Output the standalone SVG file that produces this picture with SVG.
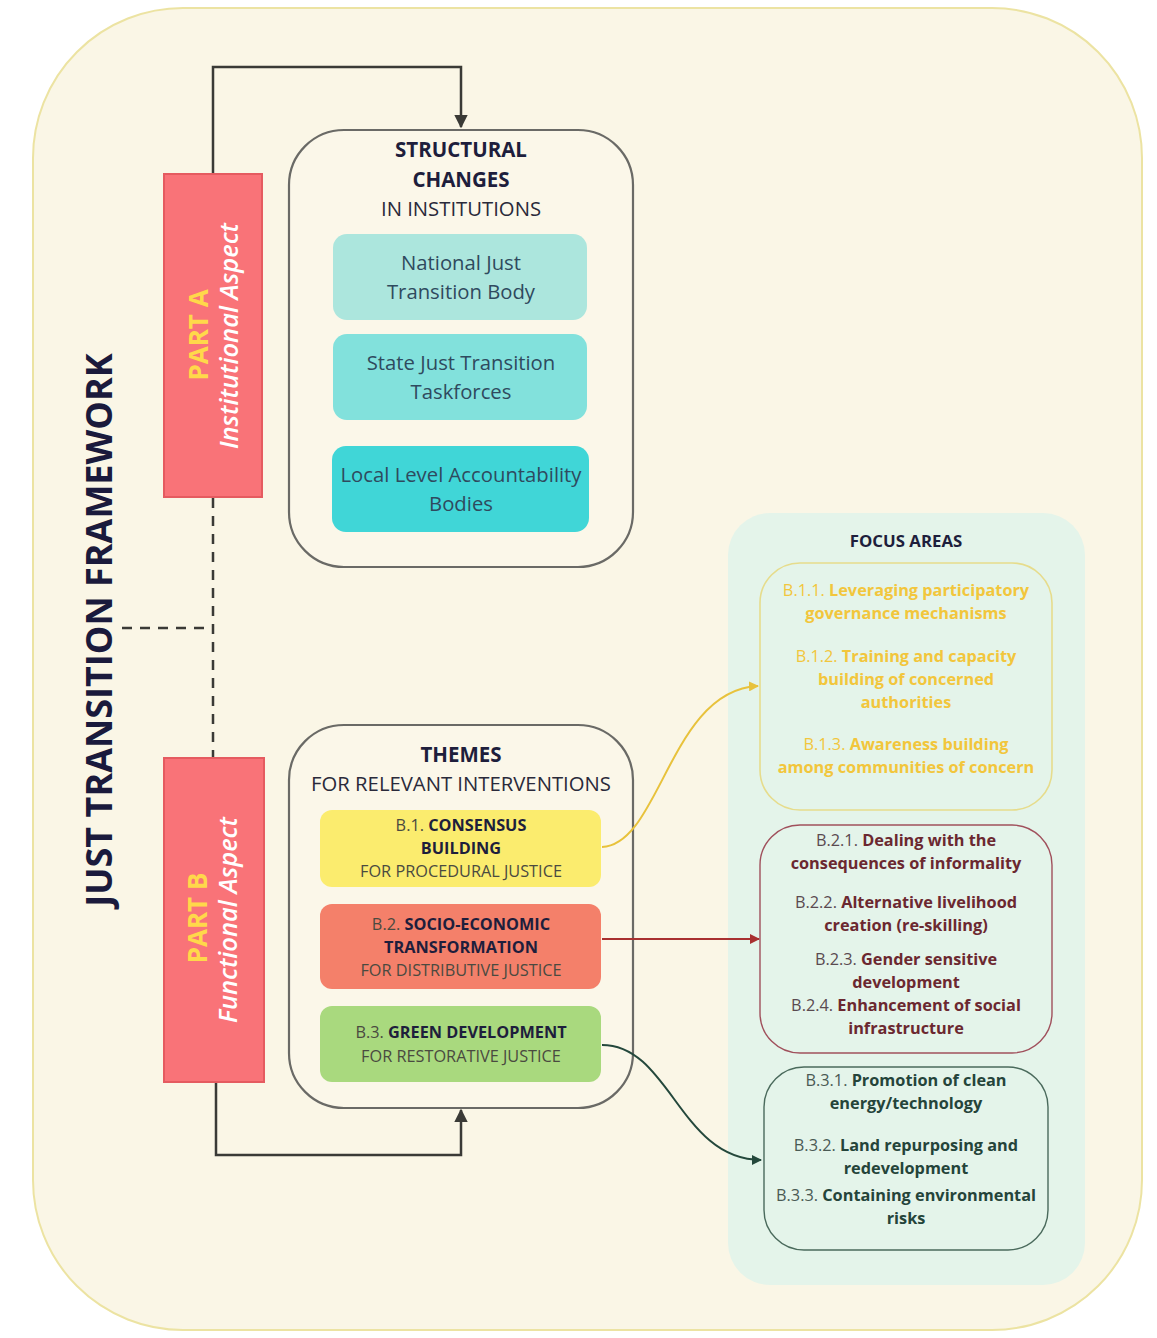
<svg xmlns="http://www.w3.org/2000/svg" width="1157" height="1338" viewBox="0 0 1157 1338">
<defs>
<style>
text{font-family:"Open Sans","Noto Sans","Liberation Sans",sans-serif;text-anchor:middle;}
.h{font-size:20.5px;font-weight:bold;fill:#1e1e3c;}
.hs{font-size:20.3px;fill:#2a2a3a;}
.inst{font-size:20.3px;fill:#2f4a5e;}
.th{font-size:16.3px;fill:#4a4a40;}
.thb{font-weight:bold;fill:#1e1e3c;}
.f1{font-size:16.3px;font-weight:bold;fill:#f2c63c;}
.f2{font-size:16.3px;font-weight:bold;fill:#6b2830;}
.f3{font-size:16.3px;font-weight:bold;fill:#25443a;}
.lt{font-weight:normal;}
.part{fill:#f97378;stroke:#e55b60;stroke-width:2;}
.pt{font-size:26px;font-weight:bold;fill:#ffd84a;}
.pi{font-size:25.5px;font-style:italic;font-weight:600;fill:#ffffff;}
.big{stroke:#6a6a66;stroke-width:2.2;fill:#fbf7e9;}
</style>
<marker id="ak" viewBox="0 0 10 10" refX="9" refY="5" markerWidth="5.5" markerHeight="5.5" orient="auto"><path d="M0,0 L10,5 L0,10 z" fill="#3a3a36"/></marker>
<marker id="ay" viewBox="0 0 10 10" refX="9" refY="5" markerWidth="5" markerHeight="5" orient="auto"><path d="M0,0 L10,5 L0,10 z" fill="#e8c23c"/></marker>
<marker id="ar" viewBox="0 0 10 10" refX="9" refY="5" markerWidth="5" markerHeight="5" orient="auto"><path d="M0,0 L10,5 L0,10 z" fill="#a83030"/></marker>
<marker id="ag" viewBox="0 0 10 10" refX="9" refY="5" markerWidth="5" markerHeight="5" orient="auto"><path d="M0,0 L10,5 L0,10 z" fill="#24483c"/></marker>
</defs>
<rect width="1157" height="1338" fill="#ffffff"/>
<rect id="frame" x="33" y="8" width="1109" height="1322" rx="150" fill="#faf6e6" stroke="#ece3a2" stroke-width="2"/>

<g id="title"><text x="0" y="0" transform="translate(112,630) rotate(-90)" font-size="36" font-weight="bold" fill="#1a1a3c">JUST TRANSITION FRAMEWORK</text></g>

<g id="focus-panel">
<rect x="728" y="513" width="357" height="772" rx="42" fill="#e4f4ea"/>
<text x="906" y="547" font-size="16.8" font-weight="bold" fill="#1e1e3c">FOCUS AREAS</text>
</g>

<g id="partA">
<rect class="part" x="164" y="174" width="98" height="323"/>
<text class="pt" transform="translate(208,335) rotate(-90)">PART A</text>
<text class="pi" transform="translate(238,336) rotate(-90)">Institutional Aspect</text>
</g>
<g id="partB">
<rect class="part" x="164" y="758" width="100" height="324"/>
<text class="pt" transform="translate(207,918) rotate(-90)">PART B</text>
<text class="pi" transform="translate(237,920) rotate(-90)">Functional Aspect</text>
</g>

<g id="structural">
<rect class="big" x="289" y="130" width="344" height="437" rx="55"/>
<text class="h" x="461" y="157">STRUCTURAL</text>
<text class="h" x="461" y="187">CHANGES</text>
<text class="hs" x="461" y="216">IN INSTITUTIONS</text>
</g>
<g id="national">
<rect x="333" y="234" width="254" height="86" rx="14" fill="#ace6dd"/>
<text class="inst" x="461" y="270">National Just</text>
<text class="inst" x="461" y="299">Transition Body</text>
</g>
<g id="state">
<rect x="333" y="334" width="254" height="86" rx="14" fill="#82e1dc"/>
<text class="inst" x="461" y="370">State Just Transition</text>
<text class="inst" x="461" y="399">Taskforces</text>
</g>
<g id="local">
<rect x="332" y="446" width="257" height="86" rx="14" fill="#40d6d7"/>
<text class="inst" x="461" y="482">Local Level Accountability</text>
<text class="inst" x="461" y="511">Bodies</text>
</g>

<g id="themes">
<rect class="big" x="289" y="725" width="344" height="383" rx="55"/>
<text class="h" x="461" y="762">THEMES</text>
<text class="hs" x="461" y="791">FOR RELEVANT INTERVENTIONS</text>
</g>
<g id="b1">
<rect x="320" y="810" width="281" height="77" rx="12" fill="#fbec6e"/>
<text class="th" x="461" y="831">B.1. <tspan class="thb">CONSENSUS</tspan></text>
<text class="th thb" x="461" y="854">BUILDING</text>
<text class="th" x="461" y="877">FOR PROCEDURAL JUSTICE</text>
</g>
<g id="b2">
<rect x="320" y="904" width="281" height="85" rx="12" fill="#f4806a"/>
<text class="th" x="461" y="930">B.2. <tspan class="thb">SOCIO-ECONOMIC</tspan></text>
<text class="th thb" x="461" y="953">TRANSFORMATION</text>
<text class="th" x="461" y="976">FOR DISTRIBUTIVE JUSTICE</text>
</g>
<g id="b3">
<rect x="320" y="1006" width="281" height="76" rx="12" fill="#a9d97e"/>
<text class="th" x="461" y="1038">B.3. <tspan class="thb">GREEN DEVELOPMENT</tspan></text>
<text class="th" x="461" y="1062">FOR RESTORATIVE JUSTICE</text>
</g>

<g id="focus-b1">
<rect x="760" y="563" width="292" height="247" rx="40" fill="none" stroke="#e6dc8c" stroke-width="1.6"/>
<text class="f1" x="906" y="596"><tspan class="lt">B.1.1.</tspan> Leveraging participatory</text>
<text class="f1" x="906" y="619">governance mechanisms</text>
<text class="f1" x="906" y="662"><tspan class="lt">B.1.2.</tspan> Training and capacity</text>
<text class="f1" x="906" y="685">building of concerned</text>
<text class="f1" x="906" y="708">authorities</text>
<text class="f1" x="906" y="750"><tspan class="lt">B.1.3.</tspan> Awareness building</text>
<text class="f1" x="906" y="773">among communities of concern</text>
</g>
<g id="focus-b2">
<rect x="760" y="825" width="292" height="228" rx="40" fill="none" stroke="#a0505c" stroke-width="1.4"/>
<text class="f2" x="906" y="846"><tspan class="lt" fill="#5a4a50">B.2.1.</tspan> Dealing with the</text>
<text class="f2" x="906" y="869">consequences of informality</text>
<text class="f2" x="906" y="908"><tspan class="lt" fill="#5a4a50">B.2.2.</tspan> Alternative livelihood</text>
<text class="f2" x="906" y="931">creation (re-skilling)</text>
<text class="f2" x="906" y="965"><tspan class="lt" fill="#5a4a50">B.2.3.</tspan> Gender sensitive</text>
<text class="f2" x="906" y="988">development</text>
<text class="f2" x="906" y="1011"><tspan class="lt" fill="#5a4a50">B.2.4.</tspan> Enhancement of social</text>
<text class="f2" x="906" y="1034">infrastructure</text>
</g>
<g id="focus-b3">
<rect x="764" y="1067" width="284" height="183" rx="40" fill="none" stroke="#4a6a5c" stroke-width="1.4"/>
<text class="f3" x="906" y="1086"><tspan class="lt" fill="#4a5a54">B.3.1.</tspan> Promotion of clean</text>
<text class="f3" x="906" y="1109">energy/technology</text>
<text class="f3" x="906" y="1151"><tspan class="lt" fill="#4a5a54">B.3.2.</tspan> Land repurposing and</text>
<text class="f3" x="906" y="1174">redevelopment</text>
<text class="f3" x="906" y="1201"><tspan class="lt" fill="#4a5a54">B.3.3.</tspan> Containing environmental</text>
<text class="f3" x="906" y="1224">risks</text>
</g>

<g id="connectors" fill="none">
<path d="M213,173 V67 H461 V127" stroke="#3a3a36" stroke-width="2.5" marker-end="url(#ak)"/>
<path d="M216,1083 V1155 H461 V1110" stroke="#3a3a36" stroke-width="2.5" marker-end="url(#ak)"/>
<path d="M213,498 V757" stroke="#3a3a36" stroke-width="2.5" stroke-dasharray="10,8"/>
<path d="M122,628 H213" stroke="#3a3a36" stroke-width="2.5" stroke-dasharray="10,8"/>
<path d="M602,847 C660,845 670,690 758,686" stroke="#e8c23c" stroke-width="2" marker-end="url(#ay)"/>
<path d="M602,939 H759" stroke="#a83030" stroke-width="2" marker-end="url(#ar)"/>
<path d="M602,1045 C670,1045 680,1160 761,1160" stroke="#24483c" stroke-width="2" marker-end="url(#ag)"/>
</g>
</svg>
